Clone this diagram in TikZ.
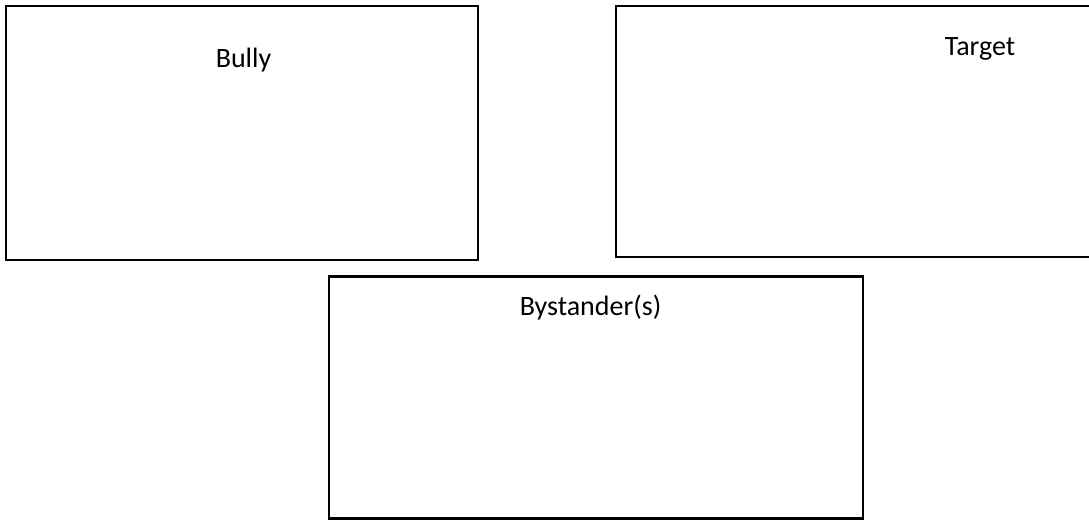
\documentclass[tikz,border=0pt]{standalone}
\usepackage{fontspec}
\setmainfont{Carlito}
\begin{document}
\begin{tikzpicture}[x=1pt,y=-1pt,
  frame/.style={draw=black,line width=2.2pt,inner sep=0pt,outer sep=0pt},
  label/.style={anchor=base,inner sep=0pt,font=\fontsize{28}{34}\selectfont}]
\useasboundingbox (0,0) rectangle (1089,520);
\clip (0,0) rectangle (1089,520);
\node[frame,minimum width=472pt,minimum height=254pt] (bully) at (242,133) {};
\node[frame,minimum width=730pt,minimum height=251pt] (target) at (981,131.5) {};
\node[frame,minimum width=534pt,minimum height=242pt] (bystander) at (596,397.5) {};
\node[label] (bullytxt) at (243.5,67) {Bully};
\node[label] (targettxt) at (980,55) {Target};
\node[label] (bystandertxt) at (590.5,315) {Bystander(s)};
\end{tikzpicture}
\end{document}
